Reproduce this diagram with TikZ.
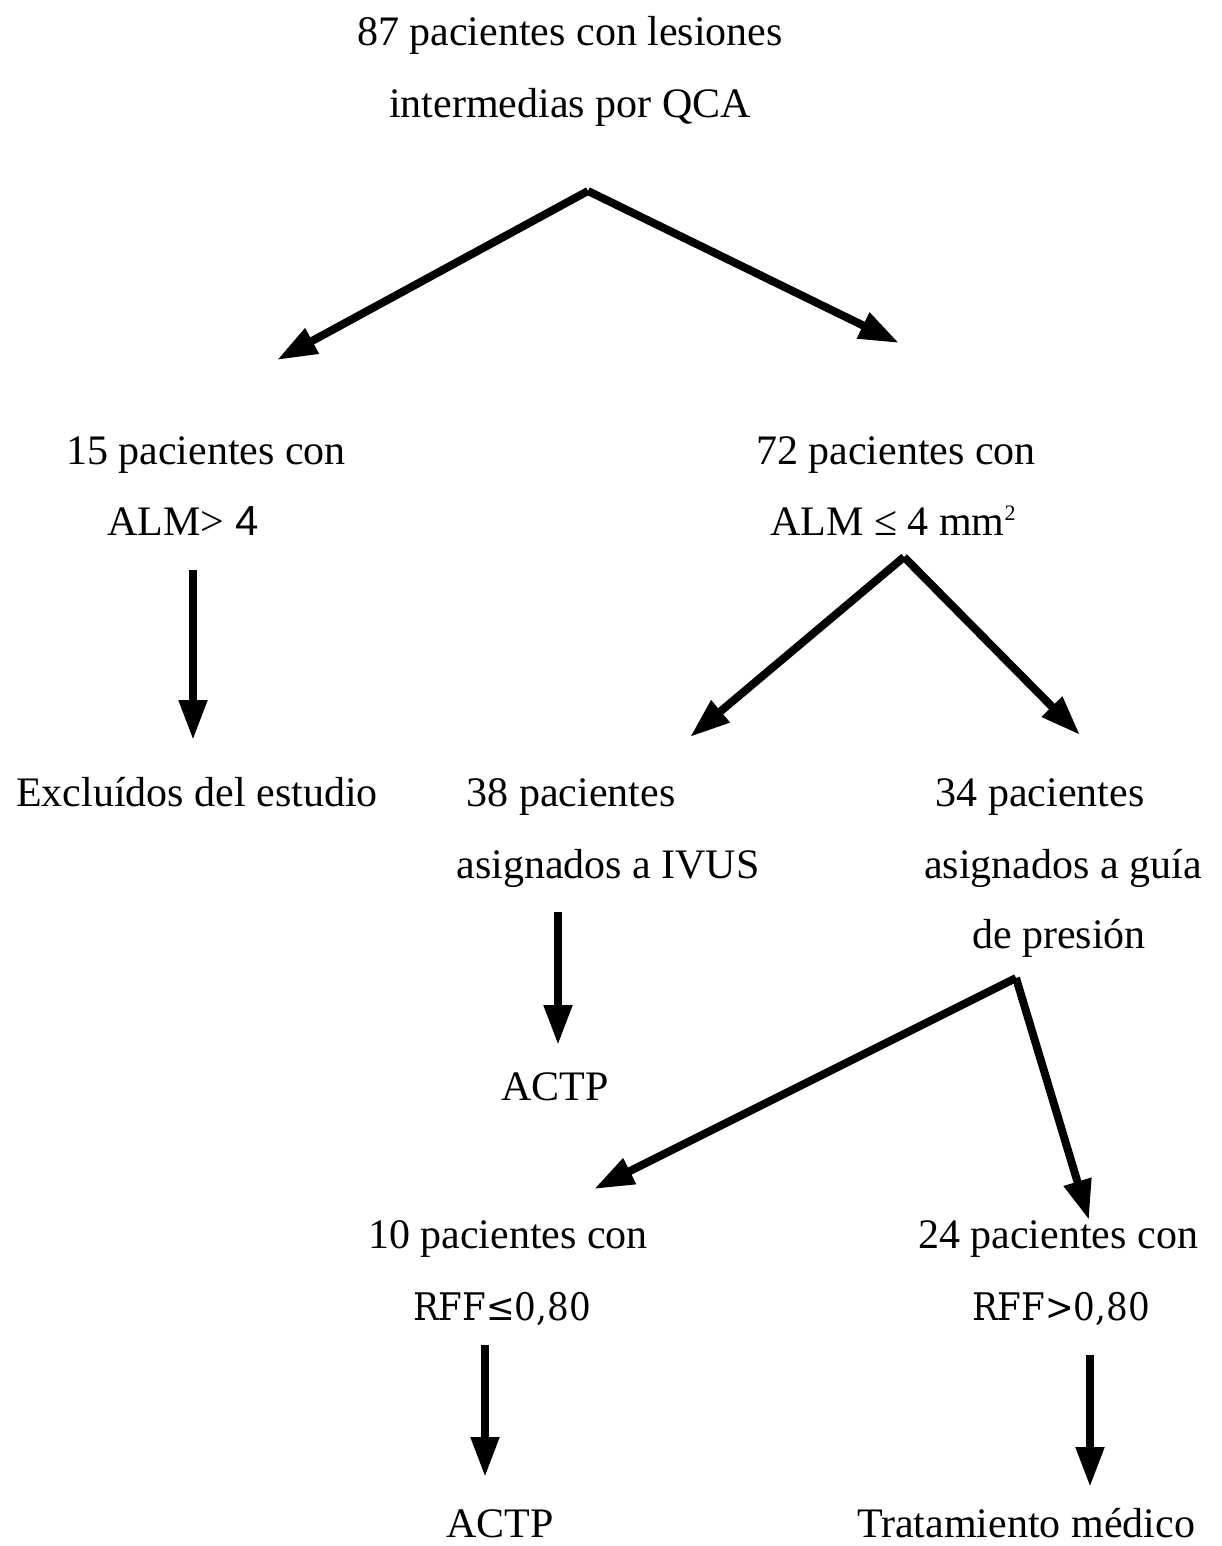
\documentclass[tikz,border=0pt]{standalone}
\usepackage{fontspec}
\setmainfont{Liberation Serif}
\newfontfamily\sansfour{Liberation Sans}
\newfontfamily\rfffont[FakeStretch=0.9]{DejaVu Serif}
\usetikzlibrary{arrows.meta}
\begin{document}
\begin{tikzpicture}[x=1pt,y=-1pt,
  lbl/.style={inner sep=0pt, anchor=base, font=\fontsize{42}{50}\selectfont},
  rfflbl/.style={inner sep=0pt, anchor=base, font=\rfffont\fontsize{38}{45}\selectfont},
  arr/.style={line width=8pt, -{Triangle[length=40pt,width=27pt]}}]
\fill[white] (0,0) rectangle (1221,1546);
\useasboundingbox (0,0) rectangle (1221,1546);
% texts
\node[lbl] (t1a) at (570,46) {87 pacientes con lesiones};
\node[lbl] (t1b) at (570,118) {intermedias por QCA};
\node[lbl] (l15a) at (206,464) {15 pacientes con};
\node[lbl] (l15b) at (183,535) {ALM> {\sansfour 4}};
\node[lbl] (r72a) at (896,464) {72 pacientes con};
\node[lbl] (r72b) at (893,535) {ALM ≤ 4 mm\raisebox{15pt}{\fontsize{22}{22}\selectfont 2}};
\node[lbl] (excl) at (197,806) {Excluídos del estudio};
\node[lbl] (p38a) at (571,806) {38 pacientes};
\node[lbl] (p38b) at (608,878) {asignados a IVUS};
\node[lbl] (p34a) at (1040,806) {34 pacientes};
\node[lbl] (p34b) at (1063,878) {asignados a guía};
\node[lbl] (p34c) at (1059,948) {de presión};
\node[lbl] (actp1) at (555,1100) {ACTP};
\node[lbl] (p10a) at (508,1248) {10 pacientes con};
\node[rfflbl] (p10b) at (502,1320) {RFF≤0,80};
\node[lbl] (p24a) at (1058,1248) {24 pacientes con};
\node[rfflbl] (p24b) at (1061,1320) {RFF>0,80};
\node[lbl] (actp2) at (500,1537) {ACTP};
\node[lbl] (trat) at (1026,1537) {Tratamiento médico};
% connector ends
\coordinate (a0) at (588,191);
\coordinate (a1) at (277,360);
\coordinate (a2) at (899,343);
\coordinate (b0) at (193,570);
\coordinate (b1) at (193,740);
\coordinate (c0) at (904,557);
\coordinate (c1) at (690,737);
\coordinate (c2) at (1080,735);
\coordinate (d0) at (558,912);
\coordinate (d1) at (558,1045);
\coordinate (e0) at (1016,978);
\coordinate (e1) at (594,1189);
\coordinate (e2) at (1089,1220);
\coordinate (f0) at (485,1345);
\coordinate (f1) at (485,1477);
\coordinate (g0) at (1090,1355);
\coordinate (g1) at (1090,1487);
% arrows
\draw[arr] (a0) -- (a1);
\draw[arr] (a0) -- (a2);
\draw[arr] (b0) -- (b1);
\draw[arr] (c0) -- (c1);
\draw[arr] (c0) -- (c2);
\draw[arr] (d0) -- (d1);
\draw[arr] (e0) -- (e1);
\draw[arr] (e0) -- (e2);
\draw[arr] (f0) -- (f1);
\draw[arr] (g0) -- (g1);
\end{tikzpicture}
\end{document}
